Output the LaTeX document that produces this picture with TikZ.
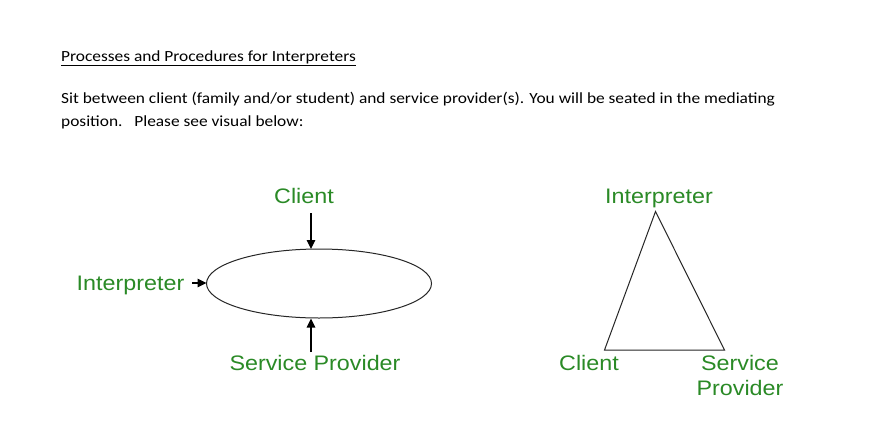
\documentclass[tikz,border=0pt]{standalone}
\usepackage{fontspec}
\setmainfont[FakeStretch=1.12]{Carlito}
\newfontfamily\lblfont[FakeStretch=1.11]{Liberation Sans}
\usetikzlibrary{arrows.meta,shapes.geometric}
\definecolor{lblgreen}{RGB}{42,138,38}
\tikzset{
  bodytext/.style={anchor=base west, inner sep=0pt, font=\fontsize{15.5}{18}\selectfont, text=black},
  lbl/.style={inner sep=0pt, font=\lblfont\fontsize{21}{25}\selectfont, text=lblgreen, align=center, anchor=base},
  arr/.style={-{Triangle[length=9pt,width=8.5pt]}, line width=1.2pt, black},
  shapeline/.style={line width=1pt, black!85}
}
\begin{document}
\begin{tikzpicture}[x=1pt,y=-1pt]
\useasboundingbox[fill=white] (0,0) rectangle (872,426);
% texts
\node[bodytext] (title) at (61,61.5) {\underline{Processes and Procedures for Interpreters}};
\node[bodytext] (line1) at (61,103.5) {Sit between client (family and/or student) and service provider(s). You will be seated in the mediating};
\node[bodytext] (line2) at (61,126) {position.\ \ \ Please see visual below:};
% ellipse diagram
\node[shapeline, draw, ellipse, minimum width=225pt, minimum height=69pt, inner sep=0pt] (ell) at (319,283.5) {};
\node[lbl] (cl) at (304,203.3) {Client};
\node[lbl] (sp) at (315,370) {Service Provider};
\node[lbl] (ip) at (130.5,290.7) {Interpreter};
\coordinate (clA) at (311,213);
\coordinate (clB) at (311,249);
\coordinate (spA) at (311,352);
\coordinate (spB) at (311,318.5);
\coordinate (ipA) at (192,283);
\coordinate (ipB) at (206.5,283);
\draw[arr] (clA) -- (clB);
\draw[arr] (spA) -- (spB);
\draw[arr] (ipA) -- (ipB);
% triangle diagram
\coordinate (tA) at (655.5,211.5);
\coordinate (tL) at (604.5,350);
\coordinate (tR) at (724.5,350);
\draw[shapeline] (tA) -- (tL) -- (tR) -- cycle;
\node[lbl] (ti) at (659,203.3) {Interpreter};
\node[lbl] (tc) at (589,370) {Client};
\node[lbl, anchor=north] (ts) at (740,355) {Service\\Provider};
\end{tikzpicture}
\end{document}
